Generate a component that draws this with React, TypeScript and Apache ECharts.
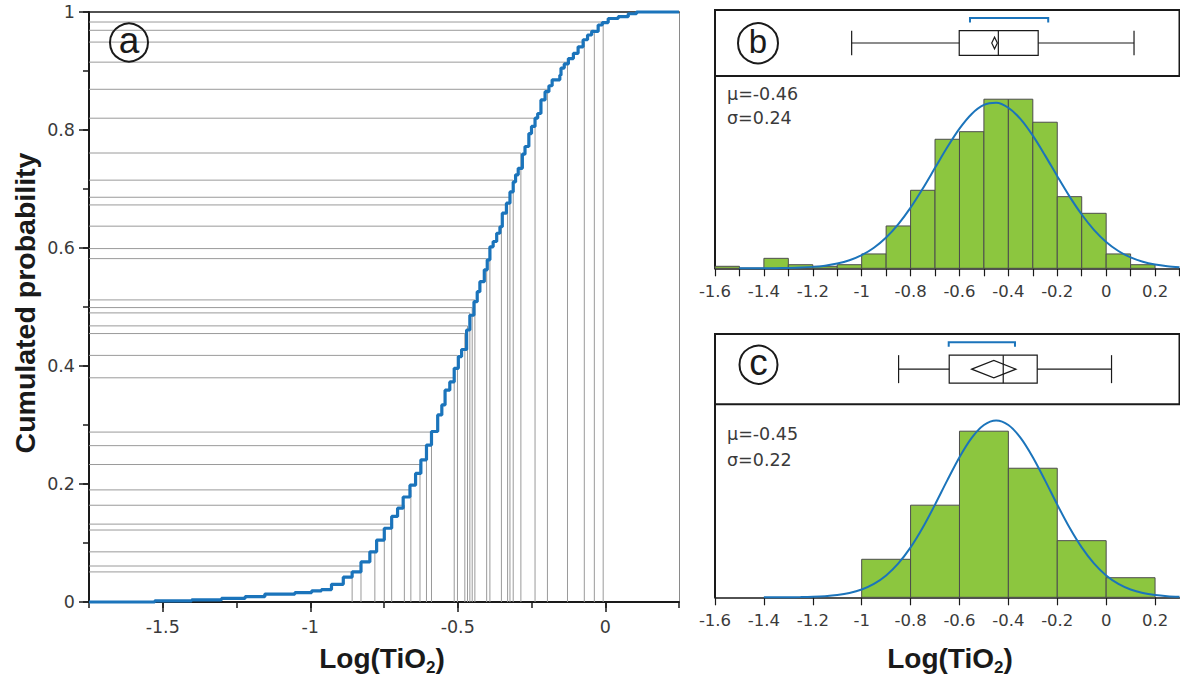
import { useEffect, useRef } from "react";
import * as echarts from "echarts";

const FONT = "'Liberation Sans', Arial, sans-serif";
const TICKFONT = "'DejaVu Sans', 'Liberation Sans', sans-serif";
const TXT = "#3a3a3a";
const BLUE = "#1b74bb";

// ---------- Panel (a): empirical cumulative distribution ----------
const ecdfX = [-1.75, -1.527, -1.402, -1.301, -1.221, -1.154, -1.052, -0.995, -0.962, -0.928, -0.888, -0.858, -0.828, -0.798, -0.775, -0.749, -0.724, -0.704, -0.685, -0.662, -0.643, -0.625, -0.606, -0.589, -0.568, -0.554, -0.543, -0.527, -0.512, -0.498, -0.487, -0.47, -0.459, -0.445, -0.434, -0.425, -0.41, -0.4, -0.391, -0.38, -0.368, -0.357, -0.349, -0.335, -0.323, -0.312, -0.304, -0.295, -0.281, -0.272, -0.259, -0.25, -0.238, -0.229, -0.218, -0.204, -0.191, -0.18, -0.154, -0.15, -0.139, -0.125, -0.108, -0.092, -0.075, -0.06, -0.046, -0.024, -0.01, 0.01, 0.044, 0.078, 0.106, 0.25];
const ecdfP = [0, 0.002, 0.0035, 0.006, 0.009, 0.0135, 0.016, 0.019, 0.021, 0.03, 0.042, 0.051, 0.068, 0.085, 0.105, 0.125, 0.145, 0.159, 0.178, 0.198, 0.218, 0.241, 0.266, 0.289, 0.317, 0.334, 0.359, 0.373, 0.396, 0.416, 0.428, 0.461, 0.486, 0.509, 0.526, 0.543, 0.563, 0.58, 0.602, 0.611, 0.625, 0.636, 0.659, 0.676, 0.695, 0.712, 0.724, 0.735, 0.759, 0.772, 0.794, 0.806, 0.82, 0.828, 0.851, 0.865, 0.875, 0.885, 0.893, 0.905, 0.912, 0.921, 0.93, 0.941, 0.953, 0.961, 0.967, 0.978, 0.982, 0.989, 0.992, 0.997, 1, 1];

// marked samples (value, cumulated probability)
const markX = [-0.858, -0.828, -0.781, -0.749, -0.724, -0.681, -0.659, -0.628, -0.606, -0.589, -0.512, -0.501, -0.476, -0.467, -0.459, -0.451, -0.442, -0.402, -0.391, -0.352, -0.331, -0.323, -0.312, -0.286, -0.238, -0.196, -0.128, -0.071, -0.037, -0.007];
const markP = [0.051, 0.061, 0.085, 0.122, 0.132, 0.164, 0.19, 0.233, 0.265, 0.288, 0.38, 0.418, 0.455, 0.468, 0.49, 0.499, 0.512, 0.582, 0.599, 0.637, 0.673, 0.686, 0.715, 0.761, 0.82, 0.869, 0.915, 0.949, 0.969, 0.983];

const aXMin = -1.75;
const aXMax = 0.25;
const aXLabelValues = [-1.5, -1, -0.5, 0];

// ---------- Panel (b) ----------
const bBinStart = [-1.6, -1.5, -1.4, -1.3, -1.2, -1.1, -1.0, -0.9, -0.8, -0.7, -0.6, -0.5, -0.4, -0.3, -0.2, -0.1, 0.0, 0.1];
const bDensity = [0.02, 0, 0.1, 0.036, 0.02, 0.036, 0.144, 0.425, 0.783, 1.295, 1.371, 1.697, 1.697, 1.466, 0.719, 0.552, 0.144, 0.036];
const bBinWidth = 0.1;
const bCurveX = [-1.5, -1.45, -1.4, -1.35, -1.3, -1.25, -1.2, -1.15, -1.1, -1.05, -1.0, -0.95, -0.9, -0.85, -0.8, -0.75, -0.7, -0.65, -0.6, -0.55, -0.5, -0.45, -0.4, -0.35, -0.3, -0.25, -0.2, -0.15, -0.1, -0.05, 0, 0.05, 0.1, 0.15, 0.2, 0.25, 0.3];
const bCurveY = [0.0001, 0.0003, 0.0008, 0.0017, 0.0036, 0.0074, 0.0143, 0.0267, 0.0475, 0.0811, 0.1323, 0.2068, 0.3095, 0.444, 0.6096, 0.8011, 1.0082, 1.2152, 1.4023, 1.5495, 1.6394, 1.6609, 1.6112, 1.4966, 1.331, 1.1335, 0.9244, 0.7218, 0.5397, 0.3864, 0.2648, 0.1739, 0.1092, 0.0658, 0.0379, 0.0209, 0.011];
// whisker low, Q1, median, Q3, whisker high
const bBox = [-1.041, -0.601, -0.441, -0.278, 0.114];
const bMeanCI = [-0.468, -0.445];
const bShortest = [-0.557, -0.237];
const bStats = ["μ=-0.46", "σ=0.24"];

// ---------- Panel (c) ----------
const cBinStart = [-1.0, -0.8, -0.6, -0.4, -0.2, 0.0];
const cDensity = [0.39, 0.945, 1.704, 1.324, 0.581, 0.201];
const cBinWidth = 0.2;
const cCurveX = [-1.4, -1.35, -1.3, -1.25, -1.2, -1.15, -1.1, -1.05, -1.0, -0.95, -0.9, -0.85, -0.8, -0.75, -0.7, -0.65, -0.6, -0.55, -0.5, -0.45, -0.4, -0.35, -0.3, -0.25, -0.2, -0.15, -0.1, -0.05, 0, 0.05, 0.1, 0.15, 0.2, 0.25, 0.3];
const cCurveY = [0.0002, 0.0004, 0.001, 0.0024, 0.0054, 0.0115, 0.0231, 0.044, 0.0797, 0.137, 0.2238, 0.3473, 0.5116, 0.7156, 0.9508, 1.1996, 1.4373, 1.6355, 1.7672, 1.8134, 1.7672, 1.6355, 1.4373, 1.1996, 0.9508, 0.7156, 0.5116, 0.3473, 0.2238, 0.137, 0.0797, 0.044, 0.0231, 0.0115, 0.0054];
const cBox = [-0.849, -0.642, -0.421, -0.282, 0.022];
const cMeanCI = [-0.55, -0.369];
const cShortest = [-0.644, -0.373];
const cStats = ["μ=-0.45", "σ=0.22"];

const hXMin = -1.6;
const hXMax = 0.3;
const hLabelValues = [-1.6, -1.4, -1.2, -1, -0.8, -0.6, -0.4, -0.2, 0, 0.2];

function histItems(starts: number[], dens: number[], w: number) {
  return starts.map((s, i) => [s, +(s + w).toFixed(3), dens[i]]);
}

function histRender(params: any, api: any) {
  const p0 = api.coord([api.value(0), api.value(2)]);
  const p1 = api.coord([api.value(1), 0]);
  return {
    type: "rect",
    shape: { x: p0[0], y: p0[1], width: p1[0] - p0[0], height: p1[1] - p0[1] },
    style: { fill: "#8cc63f", stroke: "#4d4d4d", lineWidth: 1 },
  };
}

function boxRender(g: { half: number; diamond: number; up: number; leg: number }) {
  return (params: any, api: any) => {
    const X = (i: number) => api.coord([api.value(i), 0])[0];
    const cy = api.coord([0, 0])[1];
    const lo = X(0), q1 = X(1), md = X(2), q3 = X(3), hi = X(4);
    const m0 = X(5), m1 = X(6), r0 = X(7), r1 = X(8);
    const k = { stroke: "#1a1a1a", lineWidth: 1.2, fill: "none" };
    const by = cy - g.up;
    const mc = (m0 + m1) / 2;
    return {
      type: "group",
      children: [
        { type: "line", shape: { x1: lo, y1: cy, x2: q1, y2: cy }, style: k },
        { type: "line", shape: { x1: q3, y1: cy, x2: hi, y2: cy }, style: k },
        { type: "line", shape: { x1: lo, y1: cy - g.half, x2: lo, y2: cy + g.half }, style: k },
        { type: "line", shape: { x1: hi, y1: cy - g.half, x2: hi, y2: cy + g.half }, style: k },
        { type: "rect", shape: { x: q1, y: cy - g.half, width: q3 - q1, height: 2 * g.half }, style: k },
        { type: "line", shape: { x1: md, y1: cy - g.half, x2: md, y2: cy + g.half }, style: k },
        { type: "polygon", shape: { points: [[m0, cy], [mc, cy - g.diamond], [m1, cy], [mc, cy + g.diamond]] }, style: k },
        { type: "polyline", shape: { points: [[r0, by + g.leg], [r0, by], [r1, by], [r1, by + g.leg]] }, style: { stroke: BLUE, lineWidth: 2, fill: "none" } },
      ],
    };
  };
}

function markRender(params: any, api: any) {
  const x = api.value(0);
  const p = api.value(1);
  const a = api.coord([aXMin, p]);
  const b = api.coord([x, p]);
  const c = api.coord([x, 0]);
  return {
    type: "polyline",
    shape: { points: [a, b, c] },
    style: { stroke: "#9a9a9a", lineWidth: 1, fill: "none" },
  };
}

const hidden = { show: false };
const labelA = { color: TXT, fontFamily: TICKFONT, fontSize: 17.5 };
const labelH = { color: TXT, fontFamily: TICKFONT, fontSize: 16.5 };

function circled(letter: string, cx: number, cy: number, r: number, size: number, dy: number) {
  return [
    { type: "circle", shape: { cx, cy, r }, style: { fill: "none", stroke: "#1a1a1a", lineWidth: 2 }, z: 100 },
    { type: "text", x: cx, y: cy + dy, style: { text: letter, fontFamily: FONT, fontSize: size, fill: "#1a1a1a", align: "center", verticalAlign: "middle" }, z: 100 },
  ];
}

function logLabel(x: number, y: number) {
  return {
    type: "text",
    x,
    y,
    z: 100,
    style: {
      text: "{m|Log(TiO}{s|2}{m|)}",
      align: "center",
      verticalAlign: "middle",
      rich: {
        m: { fontFamily: FONT, fontSize: 28, fontWeight: "bold", fill: "#1a1a1a", lineHeight: 28, verticalAlign: "top" },
        s: { fontFamily: FONT, fontSize: 17, fontWeight: "bold", fill: "#1a1a1a", lineHeight: 17, verticalAlign: "top", padding: [15, 0, 0, 0] },
      },
    },
  };
}

function statText(t: string, x: number, y: number) {
  return { type: "text", x, y, z: 100, style: { text: t, fontFamily: TICKFONT, fontSize: 17.5, fill: TXT, align: "left", verticalAlign: "middle" } };
}

const option: any = {
  animation: false,
  backgroundColor: "#ffffff",
  grid: [
    { left: 89, top: 12, width: 590, height: 590, outerBoundsMode: "none" },
    { left: 715, top: 10, width: 464.5, height: 66, show: true, borderColor: "#1a1a1a", borderWidth: 2, outerBoundsMode: "none" },
    { left: 715, top: 76, width: 464.5, height: 192.3, outerBoundsMode: "none" },
    { left: 715, top: 334, width: 464.5, height: 70.3, show: true, borderColor: "#1a1a1a", borderWidth: 2, outerBoundsMode: "none" },
    { left: 715, top: 404.3, width: 464.5, height: 193, outerBoundsMode: "none" },
  ],
  xAxis: [
    {
      gridIndex: 0, type: "value", position: "bottom", min: aXMin, max: aXMax, interval: 0.25,
      axisLine: { show: true, onZero: false, lineStyle: { color: "#1a1a1a", width: 2 } },
      axisTick: { show: true, inside: false, length: 6, lineStyle: { color: "#1a1a1a", width: 1.5 } },
      axisLabel: { show: false }, splitLine: hidden,
    },
    {
      gridIndex: 0, type: "value", position: "bottom", min: aXMin, max: aXMax,
      axisLine: { show: false, onZero: false },
      axisTick: { show: true, inside: false, length: 10, customValues: aXLabelValues, lineStyle: { color: "#1a1a1a", width: 1.5 } },
      axisLabel: { show: true, customValues: aXLabelValues, margin: 16, formatter: (v: number) => String(v), ...labelA },
      splitLine: hidden,
    },
    {
      gridIndex: 0, type: "value", position: "top", min: aXMin, max: aXMax,
      axisLine: { show: true, onZero: false, lineStyle: { color: "#1a1a1a", width: 1.5 } },
      axisTick: hidden, axisLabel: hidden, splitLine: hidden,
    },
    { gridIndex: 1, type: "value", min: hXMin, max: hXMax, show: false },
    {
      gridIndex: 2, type: "value", position: "bottom", min: hXMin, max: hXMax, interval: 0.1,
      axisLine: { show: true, onZero: false, lineStyle: { color: "#1a1a1a", width: 1.5 } },
      axisTick: { show: true, inside: false, length: 8, lineStyle: { color: "#1a1a1a", width: 1.2 } },
      axisLabel: {
        show: true, margin: 15, showMinLabel: true, showMaxLabel: true,
        formatter: (v: number) => (Math.abs(Math.round(v * 10)) % 2 === 0 ? String(v) : ""),
        ...labelH,
      },
      splitLine: hidden,
    },
    { gridIndex: 3, type: "value", min: hXMin, max: hXMax, show: false },
    {
      gridIndex: 4, type: "value", position: "bottom", min: hXMin, max: hXMax,
      axisLine: { show: true, onZero: false, lineStyle: { color: "#1a1a1a", width: 1.5 } },
      axisTick: { show: true, inside: false, length: 8, customValues: hLabelValues, lineStyle: { color: "#1a1a1a", width: 1.2 } },
      axisLabel: { show: true, margin: 15, customValues: hLabelValues, formatter: (v: number) => String(v), ...labelH },
      splitLine: hidden,
    },
  ],
  yAxis: [
    {
      gridIndex: 0, type: "value", position: "left", min: 0, max: 1, interval: 0.2,
      axisLine: { show: true, onZero: false, lineStyle: { color: "#1a1a1a", width: 2 } },
      axisTick: { show: true, inside: false, length: 10, lineStyle: { color: "#1a1a1a", width: 1.5 } },
      axisLabel: { show: true, margin: 14, formatter: (v: number) => String(v), ...labelA },
      splitLine: hidden,
    },
    {
      gridIndex: 0, type: "value", position: "left", min: 0, max: 1, interval: 0.1,
      axisLine: { show: false, onZero: false },
      axisTick: { show: true, inside: false, length: 6, lineStyle: { color: "#1a1a1a", width: 1.5 } },
      axisLabel: hidden, splitLine: hidden,
    },
    {
      gridIndex: 0, type: "value", position: "right", min: 0, max: 1,
      axisLine: { show: true, onZero: false, lineStyle: { color: "#8a8a8a", width: 1 } },
      axisTick: hidden, axisLabel: hidden, splitLine: hidden,
    },
    { gridIndex: 1, type: "value", min: -1, max: 1, show: false },
    {
      gridIndex: 2, type: "value", min: 0, max: 1.93,
      axisLine: { show: true, onZero: false, lineStyle: { color: "#1a1a1a", width: 2 } },
      axisTick: hidden, axisLabel: hidden, splitLine: hidden,
    },
    { gridIndex: 3, type: "value", min: -1, max: 1, show: false },
    {
      gridIndex: 4, type: "value", min: 0, max: 1.98,
      axisLine: { show: true, onZero: false, lineStyle: { color: "#1a1a1a", width: 2 } },
      axisTick: hidden, axisLabel: hidden, splitLine: hidden,
    },
  ],
  series: [
    {
      type: "custom", name: "marked samples", xAxisIndex: 0, yAxisIndex: 0, clip: false, z: 2,
      renderItem: markRender,
      data: markX.map((x, i) => [x, markP[i]]),
    },
    {
      type: "line", name: "ECDF", xAxisIndex: 0, yAxisIndex: 0, step: "end", showSymbol: false, clip: false, z: 5,
      lineStyle: { color: BLUE, width: 3.2 },
      data: ecdfX.map((x, i) => [x, ecdfP[i]]),
    },
    {
      type: "custom", name: "box b", xAxisIndex: 3, yAxisIndex: 3, clip: false, z: 5,
      renderItem: boxRender({ half: 12.3, diamond: 5.8, up: 25, leg: 4.5 }),
      data: [[...bBox, ...bMeanCI, ...bShortest]],
    },
    {
      type: "custom", name: "hist b", xAxisIndex: 4, yAxisIndex: 4, clip: false, z: 3,
      renderItem: histRender, encode: { x: [0, 1], y: 2 },
      data: histItems(bBinStart, bDensity, bBinWidth),
    },
    {
      type: "line", name: "normal b", xAxisIndex: 4, yAxisIndex: 4, showSymbol: false, smooth: 0.3, clip: false, z: 6,
      lineStyle: { color: BLUE, width: 2 },
      data: bCurveX.map((x, i) => [x, bCurveY[i]]),
    },
    {
      type: "custom", name: "box c", xAxisIndex: 5, yAxisIndex: 5, clip: false, z: 5,
      renderItem: boxRender({ half: 14, diamond: 8.7, up: 27, leg: 4.5 }),
      data: [[...cBox, ...cMeanCI, ...cShortest]],
    },
    {
      type: "custom", name: "hist c", xAxisIndex: 6, yAxisIndex: 6, clip: false, z: 3,
      renderItem: histRender, encode: { x: [0, 1], y: 2 },
      data: histItems(cBinStart, cDensity, cBinWidth),
    },
    {
      type: "line", name: "normal c", xAxisIndex: 6, yAxisIndex: 6, showSymbol: false, smooth: 0.3, clip: false, z: 6,
      lineStyle: { color: BLUE, width: 2 },
      data: cCurveX.map((x, i) => [x, cCurveY[i]]),
    },
  ],
  graphic: [
    ...circled("a", 129, 42.5, 19, 37, -2),
    ...circled("b", 758, 43.3, 20, 33, -1.5),
    ...circled("c", 758.5, 364.7, 19, 37, -2.5),
    statText(bStats[0], 727, 93.7),
    statText(bStats[1], 727, 118),
    statText(cStats[0], 727, 433.5),
    statText(cStats[1], 727, 460),
    logLabel(382, 658),
    logLabel(950, 658),
    {
      type: "text", x: 25, y: 303, rotation: Math.PI / 2, z: 100,
      style: { text: "Cumulated probability", fontFamily: FONT, fontSize: 28.5, fontWeight: "bold", fill: "#1a1a1a", align: "center", verticalAlign: "middle" },
    },
  ],
};

export default function App() {
  const ref = useRef<HTMLDivElement>(null);
  useEffect(() => {
    const chart = echarts.init(ref.current as HTMLDivElement, null, { renderer: "svg" });
    chart.setOption(option);
    return () => chart.dispose();
  }, []);
  return (
    <div
      ref={ref}
      style={{ position: "fixed", left: 0, top: 0, width: 1180, height: 679, background: "#ffffff" }}
    />
  );
}
